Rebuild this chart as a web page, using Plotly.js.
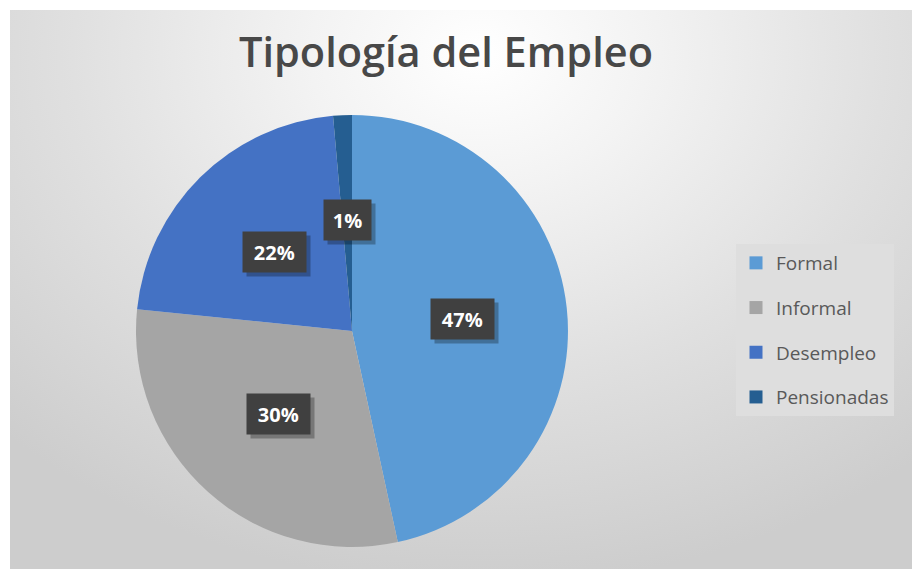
<!DOCTYPE html>
<html>
<head>
<meta charset="utf-8">
<script src="https://cdn.plot.ly/plotly-3.0.1.min.js"></script>
<style>
  html, body { margin: 0; padding: 0; background: #ffffff; }
  #wrap { position: relative; width: 912px; height: 569px; overflow: hidden; }
  #bg { position: absolute; left: 10px; top: 10px; width: 902px; height: 559px;
        background: radial-gradient(ellipse 75% 95% at 52% 8%, #ffffff 0%, #f3f3f3 25%, #e0e0e0 60%, #cdcdcd 100%); }
  #chart { position: absolute; left: 0; top: 0; width: 912px; height: 569px; }
</style>
</head>
<body>
<div id="wrap"><div id="bg"></div><div id="chart"></div></div>
<script>
const categories = ["Formal", "Informal", "Desempleo", "Pensionadas"];
const values = [46.6, 30.0, 22.0, 1.4];
const colors = ["#5B9BD5", "#A5A5A5", "#4472C4", "#255E91"];
const titleText = "Tipología del Empleo";

const W = 912, H = 569;
const domX = [0.1491, 0.6228];
const domY = [0.0387, 0.7979];

const pie = {
  type: "pie",
  labels: categories,
  values: values,
  sort: false,
  direction: "clockwise",
  rotation: 0,
  marker: { colors: colors, line: { width: 0 } },
  textinfo: "none",
  hoverinfo: "label+percent",
  showlegend: false,
  domain: { x: domX, y: domY }
};

// legend entries built from the same category / colour arrays
const legendTraces = categories.map((c, i) => ({
  type: "scatter", mode: "markers", x: [null], y: [null],
  name: c, legendgroup: "g" + i, showlegend: true,
  marker: { symbol: "square", size: 13, color: colors[i] },
  hoverinfo: "skip"
}));

// percentage labels placed from the values
const total = values.reduce((a, b) => a + b, 0);
const radiusPx = (domX[1] - domX[0]) * W / 2;
const cx = (domX[0] + domX[1]) / 2, cy = (domY[0] + domY[1]) / 2;
const labelR = radiusPx * 0.513;
const annotations = [];
let cum = 0;
values.forEach((v, i) => {
  const th = 2 * Math.PI * (cum + v / 2) / total;
  cum += v;
  const ax = cx + labelR * Math.sin(th) / W;
  const ay = cy + labelR * Math.cos(th) / H;
  const txt = Math.round(v / total * 100) + "%";
  const bw = txt.length * 15.5;
  const base = { xref: "paper", yref: "paper", x: ax, y: ay, xanchor: "center", yanchor: "middle",
                 showarrow: false, borderpad: 8, width: bw, height: 24,
                 font: { family: "Open Sans, DejaVu Sans, sans-serif", size: 20, color: "#ffffff", weight: "bold" } };
  annotations.push(Object.assign({}, base, { text: "&nbsp;", xshift: 4, yshift: -4, bgcolor: "rgba(0,0,0,0.28)" }));
  annotations.push(Object.assign({}, base, { text: "<b>" + txt + "</b>", bgcolor: "#404040" }));
});

const layout = {
  width: W, height: H,
  margin: { l: 0, r: 0, t: 0, b: 0 },
  paper_bgcolor: "rgba(0,0,0,0)",
  plot_bgcolor: "rgba(0,0,0,0)",
  title: { text: titleText, x: 0.489, xanchor: "center", y: 0.907, yanchor: "middle", yref: "container",
           font: { family: "Open Sans, DejaVu Sans, sans-serif", size: 41.5, color: "#484848", weight: 600 } },
  xaxis: { visible: false }, yaxis: { visible: false },
  showlegend: true,
  legend: { x: 736 / W, xanchor: "left", y: 1 - 244 / H, yanchor: "top",
            bgcolor: "#dedede", borderwidth: 0, tracegroupgap: 17,
            font: { family: "Open Sans, DejaVu Sans, sans-serif", size: 19, color: "#595959" } },
  annotations: annotations
};

Plotly.newPlot("chart", [pie].concat(legendTraces), layout, { staticPlot: true, displayModeBar: false });
</script>
</body>
</html>
